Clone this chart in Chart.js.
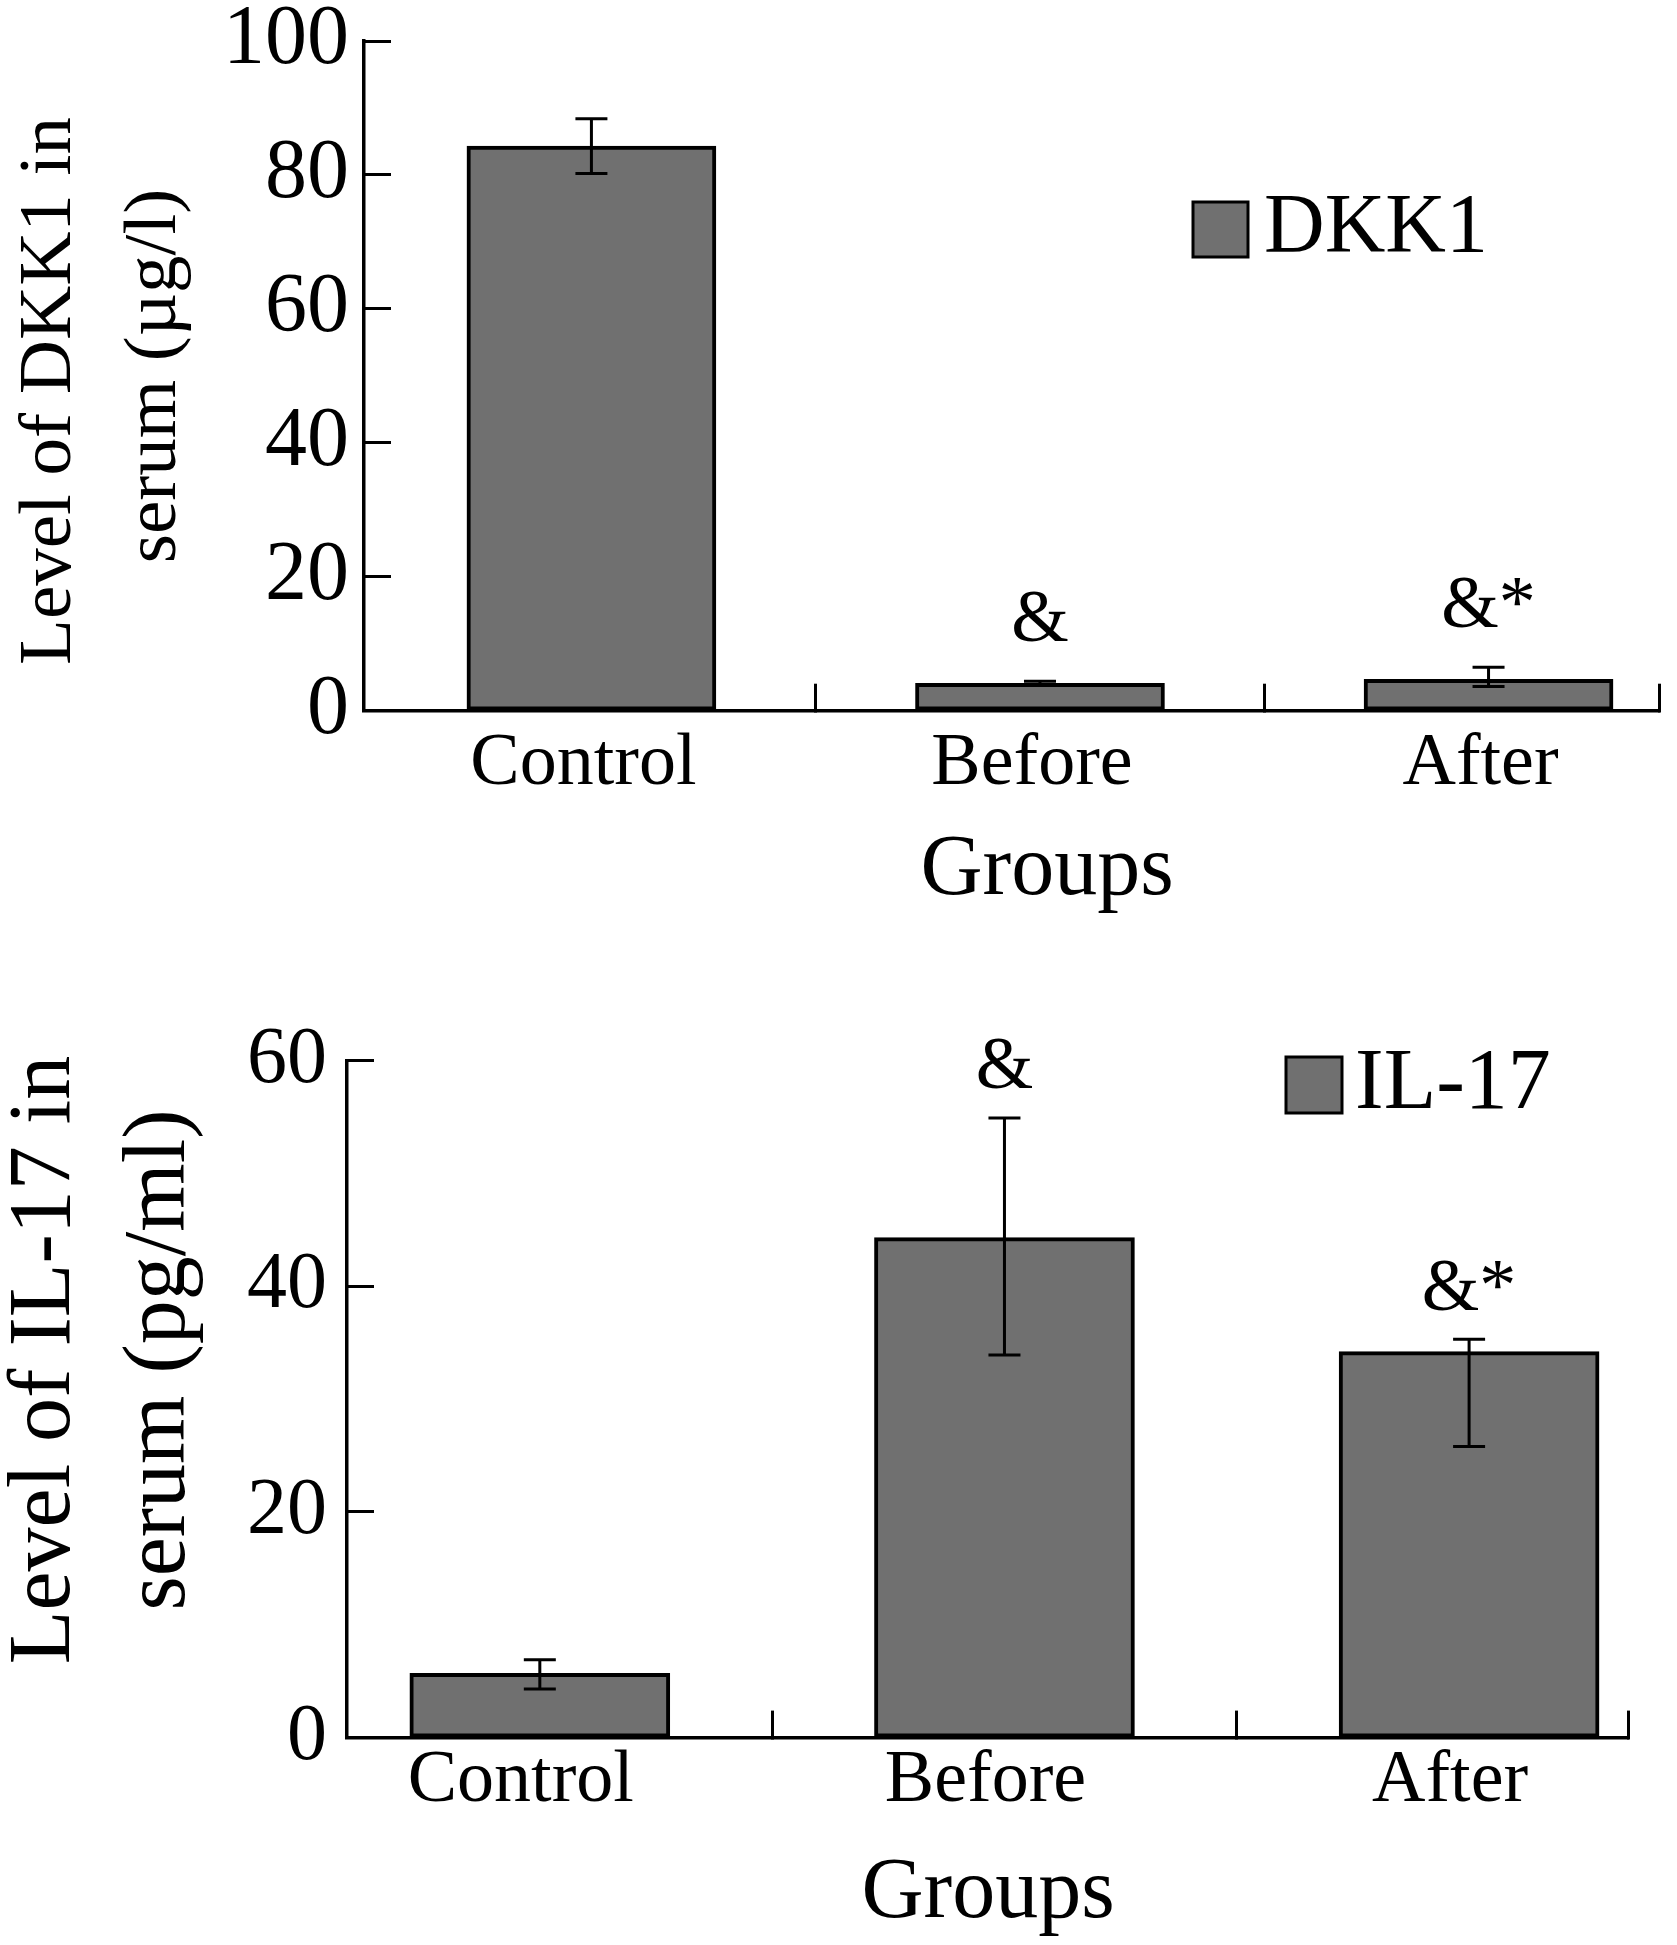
<!DOCTYPE html>
<html>
<head>
<meta charset="utf-8">
<script src="https://cdn.jsdelivr.net/npm/chart.js@4.4.1/dist/chart.umd.min.js"></script>
<style>
  body { margin: 0; background: #fff; overflow: hidden; }
  canvas { position: absolute; left: 0; }
</style>
</head>
<body>
<canvas id="dkk1" width="1677" height="960" style="top:0"></canvas>
<canvas id="il17" width="1677" height="985" style="top:960px"></canvas>
<script>
const categories = ["Control", "Before", "After"];
const marks = ["", "&", "&*"];

const dkk1Values = [84.3, 4.1, 4.7];
const dkk1ErrUp = [4.1, 0.3, 1.8];
const dkk1ErrDown = [4.1, 0.3, 1.1];
const dkk1Ticks = [0, 20, 40, 60, 80, 100];

const il17Values = [5.7, 44.3, 34.2];
const il17ErrUp = [1.2, 10.6, 1.1];
const il17ErrDown = [1.4, 10.4, 8.4];
const il17Ticks = [0, 20, 40, 60];

const FONT = "'Liberation Serif', 'Times New Roman', serif";
const BAR_GRAY = "#707070";

// error bars, significance marks, legend and axis titles
const extrasPlugin = {
  id: "extras",
  afterDatasetsDraw(chart, args, opts) {
    const ctx = chart.ctx;
    const yScale = chart.scales.y;
    const meta = chart.getDatasetMeta(0);
    ctx.save();
    ctx.strokeStyle = "#000";
    ctx.lineWidth = 3;
    meta.data.forEach((bar, i) => {
      const v = opts.values[i];
      const top = yScale.getPixelForValue(v + opts.errUp[i]);
      const bot = yScale.getPixelForValue(v - opts.errDown[i]);
      ctx.beginPath();
      ctx.moveTo(bar.x, top);
      ctx.lineTo(bar.x, bot);
      ctx.moveTo(bar.x - 16, top);
      ctx.lineTo(bar.x + 16, top);
      ctx.moveTo(bar.x - 16, bot);
      ctx.lineTo(bar.x + 16, bot);
      ctx.stroke();
      if (opts.marks[i]) {
        ctx.fillStyle = "#000";
        ctx.font = opts.markSize + "px " + FONT;
        ctx.textAlign = "center";
        ctx.textBaseline = "middle";
        ctx.fillText(opts.marks[i], bar.x, top - opts.markGap);
      }
    });

    // legend
    const lg = opts.legend;
    ctx.fillStyle = BAR_GRAY;
    ctx.fillRect(lg.x, lg.y, lg.box, lg.box);
    ctx.lineWidth = 3;
    ctx.strokeRect(lg.x, lg.y, lg.box, lg.box);
    ctx.fillStyle = "#000";
    ctx.font = lg.size + "px " + FONT;
    ctx.textAlign = "left";
    ctx.textBaseline = "middle";
    ctx.fillText(chart.data.datasets[0].label, lg.x + lg.box + lg.gap, lg.y + lg.box / 2);

    // y title, rotated, one call per line
    const yt = opts.yTitle;
    ctx.font = yt.size + "px " + FONT;
    ctx.textAlign = "center";
    yt.lines.forEach((line, i) => {
      ctx.save();
      ctx.translate(yt.x[i], yt.y[i]);
      ctx.rotate(-Math.PI / 2);
      ctx.fillText(line, 0, 0);
      ctx.restore();
    });

    // x title
    const xt = opts.xTitle;
    ctx.font = xt.size + "px " + FONT;
    ctx.fillText(xt.text, xt.x, xt.y);
    ctx.restore();
  }
};

function buildChart(id, o) {
  return new Chart(document.getElementById(id), {
    type: "bar",
    data: {
      datasets: [{
        label: o.label,
        data: o.values.map((v, i) => ({ x: i, y: v })),
        backgroundColor: BAR_GRAY,
        borderColor: "#000",
        borderWidth: 4,
        borderSkipped: false,
        barThickness: o.barWidth
      }]
    },
    options: {
      responsive: false,
      animation: false,
      devicePixelRatio: 1,
      layout: { padding: { top: o.padTop, right: o.padRight, left: 0, bottom: 0 } },
      plugins: {
        legend: { display: false },
        tooltip: { enabled: false },
        extras: {
          values: o.values, errUp: o.errUp, errDown: o.errDown,
          marks: marks, markSize: 74, markGap: o.markGap,
          legend: o.legend, yTitle: o.yTitle, xTitle: o.xTitle
        }
      },
      scales: {
        x: {
          type: "linear",
          min: o.xMin,
          max: o.xMax,
          offset: false,
          afterBuildTicks: (s) => { s.ticks = [0, 0.5, 1, 1.5, 2, o.xMax].map((v) => ({ value: v })); },
          afterFit: (s) => { s.height = o.xHeight; s.paddingLeft = 0; s.paddingRight = 0; },
          ticks: {
            autoSkip: false,
            maxRotation: 0,
            padding: o.xPad,
            labelOffset: o.xLabelShift,
            color: "#000",
            font: { family: FONT, size: 74, lineHeight: 1 },
            callback: (v) => (Number.isInteger(v) ? categories[v] : "")
          },
          grid: {
            offset: false,
            drawOnChartArea: false,
            tickLength: -27,
            tickWidth: 3,
            tickColor: (c) => (c.tick && Number.isInteger(c.tick.value) ? "rgba(0,0,0,0)" : "#000")
          },
          border: { color: "#000", width: 3.5 }
        },
        y: {
          min: 0,
          max: o.yMax,
          afterBuildTicks: (s) => { s.ticks = o.yTicks.map((v) => ({ value: v })); },
          afterFit: (s) => { s.width = o.yWidth; s.paddingTop = 0; s.paddingBottom = 0; },
          ticks: {
            padding: o.yPad,
            color: "#000",
            font: { family: FONT, size: o.yTickSize, lineHeight: 1 }
          },
          grid: { drawOnChartArea: false, tickLength: -27, tickWidth: 3, tickColor: "#000" },
          border: { color: "#000", width: 3.5 }
        }
      }
    },
    plugins: [extrasPlugin]
  });
}

buildChart("dkk1", {
  label: "DKK1",
  values: dkk1Values, errUp: dkk1ErrUp, errDown: dkk1ErrDown,
  yTicks: dkk1Ticks, yMax: 100,
  yTitle: { lines: ["Level of DKK1 in", "serum (\u00b5g/l)"], size: 75, x: [50, 155], y: [391, 376] },
  xTitle: { text: "Groups", size: 86, x: 1047, y: 871 },
  yTickSize: 84, yPad: 42, yWidth: 364,
  padTop: 41, padRight: 18,
  xMin: -0.507, xMax: 2.38, xHeight: 249.3, xPad: 44, xLabelShift: -8,
  barWidth: 249, markGap: 60,
  legend: { x: 1193, y: 202, box: 55, size: 84, gap: 16 }
});

buildChart("il17", {
  label: "IL-17",
  values: il17Values, errUp: il17ErrUp, errDown: il17ErrDown,
  yTicks: il17Ticks, yMax: 60,
  yTitle: { lines: ["Level of IL-17 in", "serum (pg/ml)"], size: 88, x: [46, 161], y: [400, 400] },
  xTitle: { text: "Groups", size: 86, x: 988, y: 934 },
  yTickSize: 80, yPad: 47, yWidth: 347,
  padTop: 100.5, padRight: 49,
  xMin: -0.415, xMax: 2.342, xHeight: 207.4, xPad: 34, xLabelShift: -19,
  barWidth: 260, markGap: 49,
  legend: { x: 1286, y: 97, box: 56, size: 86, gap: 13 }
});
</script>
</body>
</html>
